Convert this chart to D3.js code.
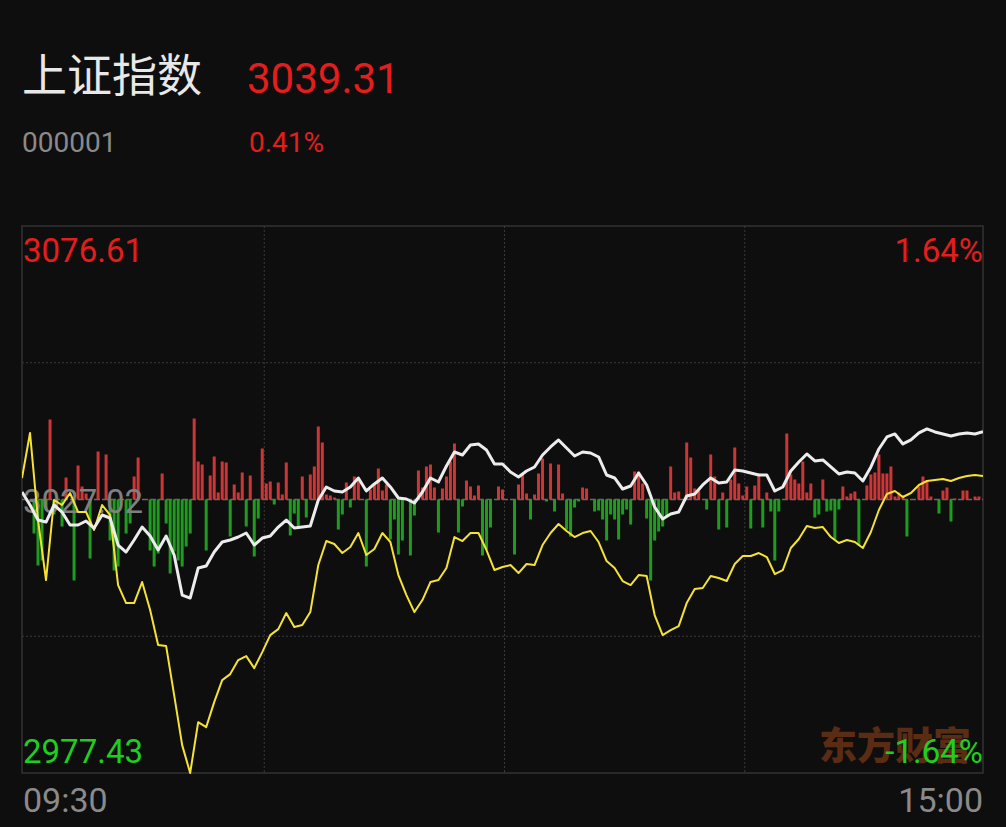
<!DOCTYPE html>
<html><head><meta charset="utf-8">
<script src="https://cdn.jsdelivr.net/npm/d3@7"></script>
<style>html,body{margin:0;padding:0;background:#0e0e0e;} svg{display:block}</style>
</head><body>
<script>
// ---------- data ----------
const indexName = "上证指数";
const indexCode = "000001";
const lastPrice = "3039.31";
const lastChange = "0.41%";
const priceTicks = ["3076.61", "3027.02", "2977.43"];
const pctTicks = ["1.64%", "-1.64%"];
const pctRange = 1.64;
const timeLabels = ["09:30", "15:00"];
const gridMinutes = [60, 120, 180];

// index change (%) sampled every 2 minutes from 09:30
const whitePct = [0.045,-0.033,-0.123,-0.135,-0.033,-0.075,-0.153,-0.153,-0.129,-0.171,
-0.093,-0.111,-0.273,-0.315,-0.243,-0.165,-0.219,-0.303,-0.219,-0.333,
-0.573,-0.591,-0.411,-0.399,-0.315,-0.255,-0.243,-0.225,-0.201,-0.273,
-0.231,-0.219,-0.165,-0.123,-0.171,-0.165,-0.159,-0.003,0.075,0.051,
0.045,0.075,0.129,0.051,0.093,0.129,0.075,0.009,0.003,-0.021,
0.045,0.129,0.105,0.201,0.285,0.267,0.327,0.333,0.297,0.213,
0.213,0.165,0.135,0.171,0.195,0.267,0.315,0.357,0.309,0.261,
0.285,0.279,0.255,0.147,0.129,0.063,0.081,0.159,0.087,-0.045,
-0.117,-0.087,-0.075,0.021,0.033,0.087,0.129,0.099,0.105,0.177,
0.171,0.159,0.147,0.147,0.051,0.075,0.171,0.225,0.273,0.231,
0.237,0.195,0.153,0.165,0.159,0.111,0.195,0.303,0.375,0.393,
0.333,0.357,0.399,0.423,0.405,0.393,0.381,0.393,0.399,0.393,0.406];

// second (yellow) line, change (%) sampled every 2 minutes
const yellowPct = [0.129,0.399,-0.123,-0.483,-0.003,-0.033,0.039,-0.075,-0.075,-0.183,
-0.033,-0.093,-0.513,-0.621,-0.621,-0.495,-0.663,-0.873,-0.879,-1.173,
-1.473,-1.640,-1.335,-1.365,-1.215,-1.083,-1.047,-0.963,-0.939,-1.011,
-0.915,-0.813,-0.777,-0.681,-0.765,-0.753,-0.675,-0.393,-0.249,-0.267,
-0.321,-0.285,-0.201,-0.333,-0.297,-0.201,-0.255,-0.453,-0.573,-0.675,
-0.603,-0.495,-0.483,-0.411,-0.225,-0.249,-0.201,-0.201,-0.303,-0.423,
-0.405,-0.393,-0.441,-0.387,-0.393,-0.273,-0.201,-0.147,-0.189,-0.225,
-0.201,-0.189,-0.255,-0.369,-0.411,-0.489,-0.513,-0.453,-0.459,-0.693,
-0.813,-0.783,-0.759,-0.621,-0.537,-0.531,-0.459,-0.471,-0.489,-0.387,
-0.339,-0.339,-0.321,-0.345,-0.447,-0.423,-0.291,-0.237,-0.159,-0.171,
-0.165,-0.225,-0.261,-0.243,-0.255,-0.291,-0.195,-0.063,0.033,0.051,
0.015,0.039,0.087,0.111,0.117,0.123,0.111,0.129,0.141,0.147,0.141];

// per-minute bar values (positive red, negative green)
const barValues = [0,0,0,-34,-66,-61,-10,80,-15,0,
-27,22,0,-81,34,13,6,-59,0,48,
0,45,-41,-71,-67,0,-34,-24,23,42,
0,0,-51,-67,-54,26,-24,-74,-52,-61,
-67,-47,-34,81,38,35,-51,24,43,7,
38,37,-37,15,7,27,-27,24,-57,-19,
51,16,18,-5,17,5,37,-36,-14,-29,
23,-18,25,33,73,57,5,4,2,-30,
-15,17,-8,23,20,0,-67,10,15,31,
9,15,-40,-20,-55,-41,0,-56,-16,29,
12,33,35,12,-33,11,23,38,56,-33,
-7,19,13,4,14,-56,-50,-28,0,13,
10,0,0,-55,15,25,6,-20,5,26,
41,-2,36,-12,35,6,-30,-37,-8,-2,
12,11,0,-12,-11,-20,-41,-15,-20,-40,
-15,-10,-25,28,28,16,-19,-81,-41,-32,
-27,-17,33,7,8,0,57,42,11,9,
0,-10,45,23,-30,7,-28,20,52,16,
4,13,-29,14,26,-28,7,-12,-61,-12,
0,66,25,20,16,38,7,16,-18,-15,
20,-12,-11,-40,-10,13,3,6,8,-46,
0,14,25,27,45,26,26,33,3,7,
4,-37,0,0,13,23,18,3,0,-14,
9,12,-22,1,0,9,9,0,3,3,0];

// ---------- layout ----------
const W = 1006, H = 827;
const L = 22, R = 983, T = 226, B = 773;
const svg = d3.select("body").append("svg").attr("width", W).attr("height", H);
svg.append("rect").attr("width", W).attr("height", H).attr("fill", "#0e0e0e");

const x = d3.scaleLinear().domain([0, 240]).range([L, R]);
const y = d3.scaleLinear().domain([-pctRange, pctRange]).range([B, T]);
const yb = d3.scaleLinear().domain([-100, 100]).range([y(0) + 100, y(0) - 100]);

const numFont = "Roboto, 'Noto Sans', sans-serif";
const cjkFont = "'Noto Sans CJK SC', sans-serif";
const red = "#e41d1d", green = "#1fcf1f";

// header
svg.append("text").attr("x", 22).attr("y", 92).attr("font-family", cjkFont)
  .attr("font-size", 45).attr("fill", "#e8e8e8").text(indexName);
svg.append("text").attr("x", 247).attr("y", 93).attr("font-family", numFont)
  .attr("font-size", 42).attr("fill", red).text(lastPrice);
svg.append("text").attr("x", 22).attr("y", 152).attr("font-family", numFont)
  .attr("font-size", 28).attr("fill", "#8a8a8a").text(indexCode);
svg.append("text").attr("x", 249).attr("y", 152).attr("font-family", numFont)
  .attr("font-size", 28).attr("fill", red).text(lastChange);

// frame
svg.append("rect").attr("x", L).attr("y", T).attr("width", R - L).attr("height", B - T)
  .attr("fill", "none").attr("stroke", "#333").attr("stroke-width", 1.5);

// grid
const g = svg.append("g");
g.selectAll("line.v").data(gridMinutes).join("line")
  .attr("x1", d => x(d) + 2).attr("x2", d => x(d) + 2).attr("y1", T).attr("y2", B)
  .attr("stroke", "#3a3a3a").attr("stroke-width", 1).attr("stroke-dasharray", "2,2");
g.selectAll("line.h").data([pctRange / 2, -pctRange / 2]).join("line")
  .attr("x1", L).attr("x2", R).attr("y1", d => y(d)).attr("y2", d => y(d))
  .attr("stroke", "#3a3a3a").attr("stroke-width", 1).attr("stroke-dasharray", "2,2");

// watermark
svg.append("text").attr("x", 819).attr("y", 759).attr("font-family", cjkFont)
  .attr("font-weight", 900).attr("font-size", 38).attr("fill", "#5a2c14").text("东方财富");

// baseline
svg.append("line").attr("x1", L).attr("x2", R).attr("y1", y(0)).attr("y2", y(0))
  .attr("stroke", "#6a6a6a").attr("stroke-width", 1.5).attr("stroke-dasharray", "6,2");

// bars
svg.append("g").selectAll("rect").data(barValues).join("rect")
  .attr("x", (d, i) => x(i) - 1.5).attr("width", 3)
  .attr("y", d => Math.min(yb(d), yb(0)))
  .attr("height", d => Math.abs(yb(d) - yb(0)))
  .attr("fill", d => d >= 0 ? "#cc3636" : "#1f9c1f");

// axis labels
const lab = svg.append("g").attr("font-family", numFont).attr("font-size", 33);
lab.append("text").attr("x", 23).attr("y", 262).attr("fill", red).text(priceTicks[0]);
lab.append("text").attr("x", 23).attr("y", 513).attr("fill", "#808080").text(priceTicks[1]);
lab.append("text").attr("x", 23).attr("y", 763).attr("fill", green).text(priceTicks[2]);
lab.append("text").attr("x", 983).attr("y", 262).attr("text-anchor", "end").attr("fill", red).text(pctTicks[0]);
lab.append("text").attr("x", 983).attr("y", 763).attr("text-anchor", "end").attr("fill", green).text(pctTicks[1]);
lab.append("text").attr("x", 23).attr("y", 812).attr("font-size", 34).attr("fill", "#8a8a8a").text(timeLabels[0]);
lab.append("text").attr("x", 983).attr("y", 812).attr("font-size", 34).attr("text-anchor", "end").attr("fill", "#8a8a8a").text(timeLabels[1]);

// lines
svg.append("clipPath").attr("id", "clip").append("rect")
  .attr("x", L).attr("y", T - 2).attr("width", R - L).attr("height", B - T + 4);
const line = d3.line().x((d, k) => x(2 * k)).y(d => y(d));
const lg = svg.append("g").attr("clip-path", "url(#clip)");
lg.append("path").datum(yellowPct).attr("d", line).attr("fill", "none")
  .attr("stroke", "#f4e236").attr("stroke-width", 2).attr("stroke-linejoin", "round");
lg.append("path").datum(whitePct).attr("d", line).attr("fill", "none")
  .attr("stroke", "#ececec").attr("stroke-width", 3).attr("stroke-linejoin", "round");
</script>
</body></html>
